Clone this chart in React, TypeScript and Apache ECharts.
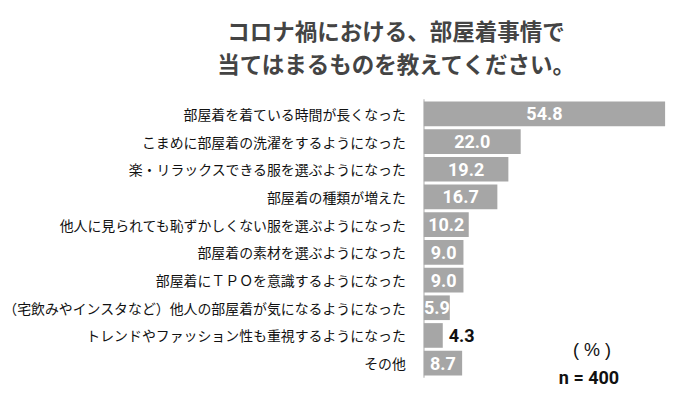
import React, { useEffect, useRef } from "react";
import * as echarts from "echarts";

const titleLines = ["コロナ禍における、部屋着事情で", "当てはまるものを教えてください。"];
const categories = [
  "部屋着を着ている時間が長くなった",
  "こまめに部屋着の洗濯をするようになった",
  "楽・リラックスできる服を選ぶようになった",
  "部屋着の種類が増えた",
  "他人に見られても恥ずかしくない服を選ぶようになった",
  "部屋着の素材を選ぶようになった",
  "部屋着にＴＰＯを意識するようになった",
  "（宅飲みやインスタなど）他人の部屋着が気になるようになった",
  "トレンドやファッション性も重視するようになった",
  "その他",
];
const values = [54.8, 22.0, 19.2, 16.7, 10.2, 9.0, 9.0, 5.9, 4.3, 8.7];
const unitLabel = "( % )";
const sampleLabel = "n = 400";

export default function App() {
  const ref = useRef<HTMLDivElement>(null);
  useEffect(() => {
    if (!ref.current) return;
    const chart = echarts.init(ref.current, null, { renderer: "svg" });
    const numFont = "Roboto, 'Liberation Sans', sans-serif";
    const cjkFont = "'Noto Sans CJK JP', sans-serif";
    const data = values.map((v) =>
      v < 5
        ? {
            value: v,
            label: {
              position: "right" as const,
              distance: 6,
              color: "#111",
            },
          }
        : { value: v }
    );
    chart.setOption({
      animation: false,
      backgroundColor: "#ffffff",
      title: {
        text: titleLines.join("\n"),
        left: 391,
        top: 8,
        textAlign: "center",
        textStyle: {
          fontFamily: cjkFont,
          fontSize: 22.5,
          fontWeight: "bold",
          color: "#444444",
          lineHeight: 33,
        },
      },
      grid: { left: 418, right: 8, top: 100, bottom: 21, containLabel: false },
      xAxis: {
        type: "value",
        min: 0,
        max: 60,
        show: false,
      },
      yAxis: {
        type: "category",
        data: categories,
        inverse: true,
        axisLine: { show: true, lineStyle: { color: "#d4d4d4", width: 2 } },
        axisTick: { show: false },
        axisLabel: {
          margin: 18,
          fontFamily: cjkFont,
          fontSize: 13.9,
          color: "#111111",
        },
        splitLine: { show: false },
      },
      series: [
        {
          type: "bar",
          data,
          barCategoryGap: "11%",
          itemStyle: { color: "#a6a6a6" },
          label: {
            show: true,
            position: "inside",
            color: "#ffffff",
            fontFamily: numFont,
            fontWeight: "bold",
            fontSize: 18,
            formatter: (p: any) => Number(p.value).toFixed(1),
          },
        },
      ],
      graphic: [
        {
          type: "text",
          x: 592,
          y: 350,
          style: {
            text: unitLabel,
            fontFamily: "'Liberation Sans', sans-serif",
            fontSize: 18,
            fill: "#111",
            textAlign: "center",
            textVerticalAlign: "middle",
          },
        },
        {
          type: "text",
          x: 589,
          y: 377,
          style: {
            text: sampleLabel,
            fontFamily: numFont,
            fontWeight: "bold",
            fontSize: 18,
            fill: "#111",
            textAlign: "center",
            textVerticalAlign: "middle",
          },
        },
      ],
    });
    return () => chart.dispose();
  }, []);
  return <div ref={ref} style={{ width: 696, height: 398, margin: -8 }} />;
}
